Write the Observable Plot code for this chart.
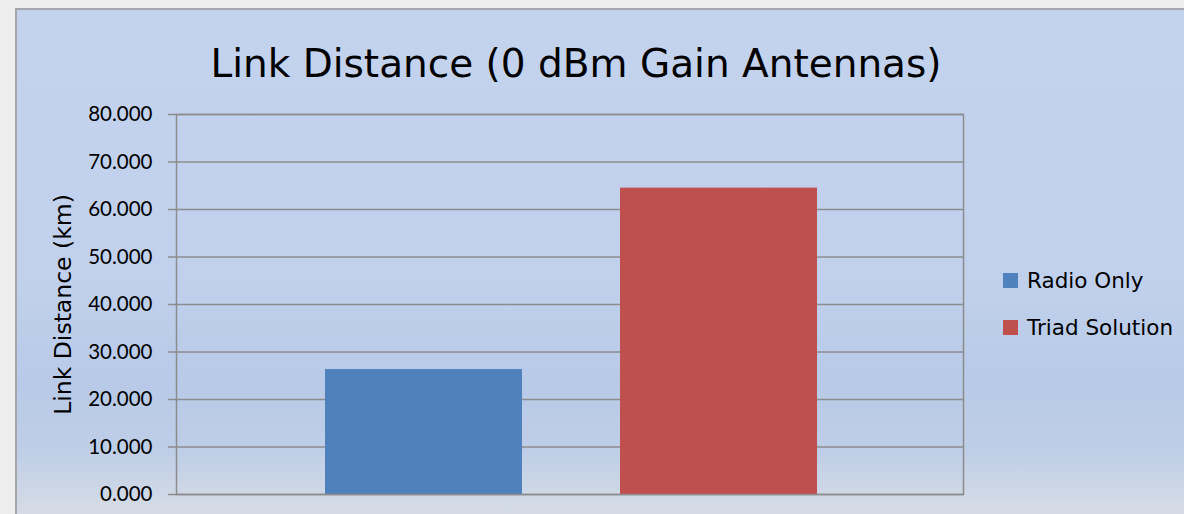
<!DOCTYPE html>
<html>
<head>
<meta charset="utf-8">
<script src="https://cdn.jsdelivr.net/npm/d3@7"></script>
<script src="https://cdn.jsdelivr.net/npm/@observablehq/plot@0.6"></script>
<style>
  html, body { margin: 0; padding: 0; }
  body { width: 1184px; height: 514px; position: relative; overflow: hidden; background: #eeeeee; }
  #panel { position: absolute; left: 15px; top: 8px; width: 1200px; height: 520px;
    border-left: 2px solid #a3a6ab; border-top: 2px solid #a3a6ab;
    background: linear-gradient(to bottom, #c3d3ee 0%, #c1d1ed 50%, #b8cae8 72%, #bfcee7 85%, #d4dbe5 96%, #d6dce4 100%); }
  #title { position: absolute; left: 0; width: 1152px; top: 41px; text-align: center;
    font-family: "Comic Sans MS", "DejaVu Sans", sans-serif; font-size: 39px; line-height: 46px; color: #000; white-space: nowrap; }
  #chart { position: absolute; left: 0; top: 0; }
  #legend { position: absolute; left: 1003px; top: 267px; font-family: "Comic Sans MS", "DejaVu Sans", sans-serif; font-size: 21.5px; color: #000; }
  .item { display: flex; align-items: center; height: 26px; margin-bottom: 21px; white-space: nowrap; }
  .sw { width: 15px; height: 15px; margin-right: 9px; flex: none; }
</style>
</head>
<body>
<div id="panel"></div>
<div id="title">Link Distance (0 dBm Gain Antennas)</div>
<div id="chart"></div>
<div id="legend"></div>
<script>
const series = ["Radio Only", "Triad Solution"];
const values = [26.3, 64.5];
const colors = ["#4f81bd", "#c0504d"];
const yTicks = [0, 10, 20, 30, 40, 50, 60, 70, 80];
const titleText = "Link Distance (0 dBm Gain Antennas)";
const yLabel = "Link Distance (km)";

const data = series.map((s, i) => ({series: s, value: values[i]}));

const plot = Plot.plot({
  width: 1184,
  height: 514,
  marginLeft: 176,
  marginRight: 221,
  marginTop: 114,
  marginBottom: 20,
  style: {background: "transparent", overflow: "visible"},
  x: {domain: series, paddingInner: 0.3316, paddingOuter: 0.4975, align: 0.505, axis: null},
  y: {domain: [0, 80], ticks: yTicks},
  color: {domain: series, range: colors},
  marks: [
    Plot.gridY(yTicks, {stroke: "#8c8c8c", strokeOpacity: 1, strokeWidth: 1.5}),
    Plot.barY(data, {x: "series", y: "value", fill: "series"}),
    Plot.frame({stroke: "#8c8c8c", strokeWidth: 1.5}),
    Plot.axisY(yTicks, {
      tickFormat: d3.format(".3f"),
      tickSize: 8,
      tickPadding: 16,
      stroke: "#8c8c8c",
      strokeWidth: 1.5,
      fontSize: 20.5,
      fontFamily: "Lato, 'Open Sans', sans-serif",
      fill: "#000",
      label: yLabel,
      labelAnchor: "center",
      labelOffset: 122,
      labelArrow: "none"
    })
  ]
});
document.getElementById("chart").appendChild(plot);

// style axis label with the chart's handwriting-like font
d3.select(plot).selectAll("[aria-label='y-axis label'] text, [aria-label='y-axis label']")
  .style("font-family", "'Comic Sans MS', 'DejaVu Sans', sans-serif")
  .style("font-size", "23.5px");

const legend = d3.select("#legend");
series.forEach((s, i) => {
  const it = legend.append("div").attr("class", "item");
  it.append("div").attr("class", "sw").style("background", colors[i]);
  it.append("span").text(s);
});
</script>
</body>
</html>
